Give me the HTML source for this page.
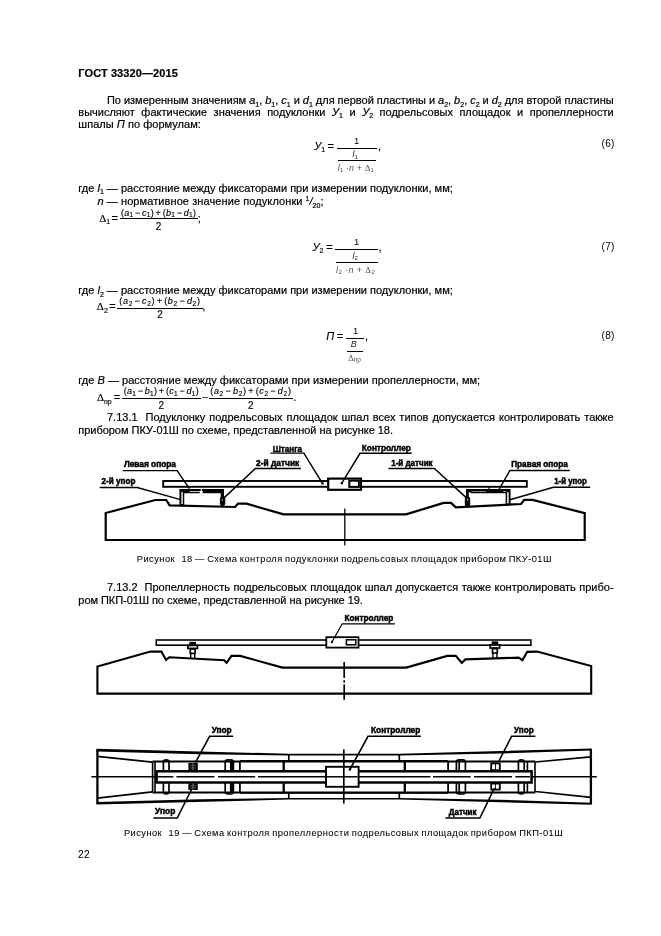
<!DOCTYPE html>
<html lang="ru">
<head>
<meta charset="utf-8">
<title>ГОСТ 33320—2015</title>
<style>
html,body{margin:0;padding:0;background:#fff;}
body{will-change:transform;width:661px;height:936px;position:relative;overflow:hidden;font-family:"Liberation Sans",sans-serif;color:#000;}
.l{-webkit-text-stroke:0.2px #000;position:absolute;white-space:nowrap;font-size:11px;line-height:12px;height:12px;}
i{font-style:italic;}
sub{font-size:7px;vertical-align:baseline;position:relative;top:2.5px;line-height:0;}
sup{font-size:6.5px;vertical-align:baseline;position:relative;top:-4px;line-height:0;}
.hd{font-weight:bold;}
.fl{position:absolute;height:1px;background:#000;}
.t{-webkit-text-stroke:0.15px #000;position:absolute;white-space:nowrap;line-height:12px;height:12px;}
svg{position:absolute;left:0;top:0;}

</style>
</head>
<body>
<div class="l hd" style="left:78.3px;top:66.69px;font-size:11px;letter-spacing:0.103px;">ГОСТ 33320—2015</div>
<div class="l " style="left:106.9px;top:94.19px;font-size:11px;word-spacing:-0.081px;">По измеренным значениям <i>a</i><sub>1</sub>, <i>b</i><sub>1</sub>, <i>c</i><sub>1</sub> и <i>d</i><sub>1</sub> для первой пластины и <i>a</i><sub>2</sub>, <i>b</i><sub>2</sub>, <i>c</i><sub>2</sub> и <i>d</i><sub>2</sub> для второй пластины</div>
<div class="l " style="left:78.3px;top:105.99px;font-size:11px;word-spacing:3.464px;">вычисляют фактические значения подуклонки <i>У</i><sub>1</sub> и <i>У</i><sub>2</sub> подрельсовых площадок и пропеллерности</div>
<div class="l " style="left:78.3px;top:117.89px;font-size:11px;letter-spacing:0.040px;">шпалы <i>П</i> по формулам:</div>
<div class="l " style="left:78.3px;top:181.99px;font-size:11px;letter-spacing:0.006px;">где <i>l</i><sub>1</sub> — расстояние между фиксаторами при измерении подуклонки, мм;</div>
<div class="l " style="left:97.4px;top:195.29px;font-size:11px;letter-spacing:0.090px;"><i>n</i> — нормативное значение подуклонки <sup>1</sup><i>/</i><sub>20</sub>;</div>
<div class="l " style="left:78.3px;top:284.39px;font-size:11px;letter-spacing:0.006px;">где <i>l</i><sub>2</sub> — расстояние между фиксаторами при измерении подуклонки, мм;</div>
<div class="l " style="left:78.3px;top:374.39px;font-size:11px;letter-spacing:0.019px;">где <i>B</i> — расстояние между фиксаторами при измерении пропеллерности, мм;</div>
<div class="l " style="left:107.0px;top:410.69px;font-size:11px;word-spacing:0.893px;">7.13.1&nbsp; Подуклонку подрельсовых площадок шпал всех типов допускается контролировать также</div>
<div class="l " style="left:78.3px;top:423.59px;font-size:11px;letter-spacing:-0.030px;">прибором ПКУ-01Ш по схеме, представленной на рисунке 18.</div>
<div class="l " style="left:136.8px;top:552.58px;font-size:9.3px;letter-spacing:0.453px;"><span style="word-spacing:-0.7px;-webkit-text-stroke:0.05px #000">Рисунок&nbsp; <span style="margin-left:1.8px">18</span> — Схема контроля подуклонки подрельсовых площадок прибором ПКУ-01Ш</span></div>
<div class="l " style="left:107.0px;top:580.99px;font-size:11px;word-spacing:0.423px;">7.13.2&nbsp; Пропеллерность подрельсовых площадок шпал допускается также контролировать прибо-</div>
<div class="l " style="left:78.3px;top:593.59px;font-size:11px;letter-spacing:-0.038px;">ром ПКП-01Ш по схеме, представленной на рисунке 19.</div>
<div class="l " style="left:123.9px;top:826.68px;font-size:9.3px;letter-spacing:0.454px;"><span style="word-spacing:-0.7px;-webkit-text-stroke:0.05px #000">Рисунок&nbsp; <span style="margin-left:1.8px">19</span> — Схема контроля пропеллерности подрельсовых площадок прибором ПКП-01Ш</span></div>
<div class="l " style="left:78.0px;top:849.07px;font-size:10.2px;letter-spacing:0.256px;"><span style="-webkit-text-stroke:0.05px #000">22</span></div>
<div class="l " style="left:601.6px;top:138.23px;font-size:10px;letter-spacing:0.283px;"><span style="-webkit-text-stroke:0">(6)</span></div>
<div class="l " style="left:601.6px;top:240.73px;font-size:10px;letter-spacing:0.283px;"><span style="-webkit-text-stroke:0">(7)</span></div>
<div class="l " style="left:601.6px;top:330.13px;font-size:10px;letter-spacing:0.283px;"><span style="-webkit-text-stroke:0">(8)</span></div>
<div class="t" style="left:314.2px;top:139.79px;font-size:11px;"><i>У</i><sub>1</sub></div>
<div class="t" style="left:327.4px;top:139.79px;font-size:11px;">=</div>
<div class="fl" style="left:337.0px;top:147.7px;width:40.2px;"></div>
<div class="t" style="left:354.1px;top:135.11px;font-size:9.5px;-webkit-text-stroke:0;">1</div>
<div class="t" style="left:378.0px;top:139.79px;font-size:11px;">,</div>
<div class="t" style="left:352.6px;top:148.38px;font-size:9px;color:#1a1a1a;-webkit-text-stroke:0;"><i>l</i><sub style="font-size:6px;top:1.5px">1</sub></div>
<div class="fl" style="left:337.8px;top:159.8px;width:37.8px;"></div>
<div class="t" style="left:337.8px;top:161.68px;font-size:9px;color:#555;-webkit-text-stroke:0;letter-spacing:0.1px;"><i>l</i><sub style="font-size:6px;top:1.5px">1</sub> ·<i>n</i> + <span style="font-family:'Liberation Serif',serif;">Δ</span><sub style="font-size:6px;top:1.5px">1</sub></div>
<div class="t" style="left:312.5px;top:240.79px;font-size:11px;"><i>У</i><sub>2</sub></div>
<div class="t" style="left:326.2px;top:240.79px;font-size:11px;">=</div>
<div class="fl" style="left:334.8px;top:248.9px;width:43.1px;"></div>
<div class="t" style="left:354.1px;top:236.31px;font-size:9.5px;-webkit-text-stroke:0;">1</div>
<div class="t" style="left:378.6px;top:240.79px;font-size:11px;">,</div>
<div class="t" style="left:352.6px;top:249.58px;font-size:9px;color:#1a1a1a;-webkit-text-stroke:0;"><i>l</i><sub style="font-size:6px;top:1.5px">2</sub></div>
<div class="fl" style="left:336.0px;top:261.6px;width:41.9px;"></div>
<div class="t" style="left:336.0px;top:263.58px;font-size:9px;color:#555;-webkit-text-stroke:0;letter-spacing:0.4px;"><i>l</i><sub style="font-size:6px;top:1.5px">2</sub> ·<i>n</i> + <span style="font-family:'Liberation Serif',serif;">Δ</span><sub style="font-size:6px;top:1.5px">2</sub></div>
<div class="t" style="left:326.3px;top:329.99px;font-size:11px;"><i>П</i></div>
<div class="t" style="left:336.8px;top:329.99px;font-size:11px;">=</div>
<div class="fl" style="left:346.1px;top:337.7px;width:18.2px;"></div>
<div class="t" style="left:352.9px;top:325.21px;font-size:9.5px;-webkit-text-stroke:0;">1</div>
<div class="t" style="left:365.0px;top:329.99px;font-size:11px;">,</div>
<div class="t" style="left:350.8px;top:337.68px;font-size:9px;color:#1a1a1a;-webkit-text-stroke:0;"><i>B</i></div>
<div class="fl" style="left:346.9px;top:350.8px;width:15.9px;"></div>
<div class="t" style="left:348.0px;top:351.68px;font-size:9px;color:#555;-webkit-text-stroke:0;"><span style="font-family:'Liberation Serif',serif;">Δ</span><sub style="font-size:6.5px;top:1.8px">пр</sub></div>
<div class="t" style="left:99.2px;top:211.79px;font-size:11px;"><span style="font-family:'Liberation Serif',serif;">Δ</span><sub>1</sub></div>
<div class="t" style="left:111.5px;top:211.79px;font-size:11px;">=</div>
<div class="fl" style="left:119.6px;top:218.4px;width:78.0px;"></div>
<div class="t" style="left:119.6px;width:78.0px;text-align:center;top:206.88px;font-size:9px;letter-spacing:0.3px;">(<i>a</i><sub style="font-size:6.5px;top:1.5px">1</sub><span style="margin:0 1.5px">−</span><i>c</i><sub style="font-size:6.5px;top:1.5px">1</sub>)<span style="margin:0 1.5px">+</span>(<i>b</i><sub style="font-size:6.5px;top:1.5px">1</sub><span style="margin:0 1.5px">−</span><i>d</i><sub style="font-size:6.5px;top:1.5px">1</sub>)</div>
<div class="t" style="left:119.6px;width:78.0px;text-align:center;top:221.14px;font-size:10px;">2</div>
<div class="t" style="left:197.8px;top:211.79px;font-size:11px;">;</div>
<div class="t" style="left:96.8px;top:300.19px;font-size:11px;"><span style="font-family:'Liberation Serif',serif;">Δ</span><sub>2</sub></div>
<div class="t" style="left:109.3px;top:300.19px;font-size:11px;">=</div>
<div class="fl" style="left:117.2px;top:307.8px;width:85.5px;"></div>
<div class="t" style="left:117.2px;width:85.5px;text-align:center;top:295.48px;font-size:9px;letter-spacing:0.7px;">(<i>a</i><sub style="font-size:6.5px;top:1.5px">2</sub><span style="margin:0 1.5px">−</span><i>c</i><sub style="font-size:6.5px;top:1.5px">2</sub>)<span style="margin:0 1.5px">+</span>(<i>b</i><sub style="font-size:6.5px;top:1.5px">2</sub><span style="margin:0 1.5px">−</span><i>d</i><sub style="font-size:6.5px;top:1.5px">2</sub>)</div>
<div class="t" style="left:117.2px;width:85.5px;text-align:center;top:309.04px;font-size:10px;">2</div>
<div class="t" style="left:202.2px;top:300.19px;font-size:11px;">,</div>
<div class="t" style="left:97.0px;top:391.39px;font-size:11px;"><span style="font-family:'Liberation Serif',serif;">Δ</span><sub style="font-size:7px">пр</sub></div>
<div class="t" style="left:113.8px;top:391.39px;font-size:11px;">=</div>
<div class="fl" style="left:122.0px;top:398.2px;width:78.7px;"></div>
<div class="t" style="left:122.0px;width:78.7px;text-align:center;top:385.48px;font-size:9px;letter-spacing:0.3px;">(<i>a</i><sub style="font-size:6.5px;top:1.5px">1</sub><span style="margin:0 1.5px">−</span><i>b</i><sub style="font-size:6.5px;top:1.5px">1</sub>)<span style="margin:0 1.5px">+</span>(<i>c</i><sub style="font-size:6.5px;top:1.5px">1</sub><span style="margin:0 1.5px">−</span><i>d</i><sub style="font-size:6.5px;top:1.5px">1</sub>)</div>
<div class="t" style="left:122.0px;width:78.7px;text-align:center;top:399.74px;font-size:10px;">2</div>
<div class="t" style="left:201.8px;top:391.39px;font-size:11px;">−</div>
<div class="fl" style="left:208.9px;top:398.2px;width:84.0px;"></div>
<div class="t" style="left:208.9px;width:84.0px;text-align:center;top:385.48px;font-size:9px;letter-spacing:0.7px;">(<i>a</i><sub style="font-size:6.5px;top:1.5px">2</sub><span style="margin:0 1.5px">−</span><i>b</i><sub style="font-size:6.5px;top:1.5px">2</sub>)<span style="margin:0 1.5px">+</span>(<i>c</i><sub style="font-size:6.5px;top:1.5px">2</sub><span style="margin:0 1.5px">−</span><i>d</i><sub style="font-size:6.5px;top:1.5px">2</sub>)</div>
<div class="t" style="left:208.9px;width:84.0px;text-align:center;top:399.74px;font-size:10px;">2</div>
<div class="t" style="left:293.2px;top:391.39px;font-size:11px;">.</div>
<svg width="661" height="936" viewBox="0 0 661 936" fill="none" stroke="#000" stroke-linejoin="miter" stroke-linecap="butt">
<!-- ===== Figure 18 ===== -->
<g id="f18">
<!-- sleeper outline -->
<path stroke-width="2.2" d="M105.7,513 L105.7,540 L584.7,540 L584.7,513.1 L532.5,499.9 L524.3,499.9 L521,504 L455.8,507.4 L451,502.9 L443.6,502.9 L406,514.4 L283.6,514.4 L246.5,503.7 L238,503.7 L235,507 L169.6,505.3 L166.2,500 L155.4,500 Z"/>
<!-- centre line -->
<path stroke-width="1.3" d="M344.8,508.5 V545.5"/>
<!-- bar -->
<rect x="163.2" y="481" width="363.6" height="5.8" stroke-width="1.9"/>
<!-- controller -->
<rect x="328.2" y="478.6" width="32.8" height="11.2" stroke-width="2.2" fill="#fff"/>
<rect x="349.3" y="480.7" width="9.6" height="6.2" stroke-width="2"/>
<!-- left support -->
<path stroke-width="1.9" d="M180.4,506 V490 H223 V506"/>
<path stroke-width="1.5" d="M183.5,505.3 V492.5 H199.7 M202.6,492.5 H220.8"/>
<path stroke-width="2.9" d="M203,491.3 H222.2 V506.2"/>
<path stroke-width="2.6" d="M179.6,490.8 H189.6"/>
<path stroke-width="1.8" d="M180.3,505 H184.2"/>
<path stroke="#fff" stroke-width="1.1" d="M201.2,487.9 V493.2"/>
<rect x="220.4" y="497" width="4.4" height="8.4" rx="1.8" fill="#000" stroke-width="1"/>
<circle cx="222.3" cy="499.9" r="0.7" fill="#fff" stroke="none"/>
<!-- right support -->
<path stroke-width="1.9" d="M466.9,506.8 V490 H509.6 V505"/>
<path stroke-width="1.5" d="M470.6,492.6 H506.4 V505"/>
<path stroke-width="2.8" d="M467.4,491.2 V506.6"/>
<path stroke-width="2.7" d="M466.9,490.9 H509.6"/>
<path stroke="#fff" stroke-width="0.5" d="M471.5,491.5 H486 M503,491.5 H506.5"/>
<path stroke-width="1.8" d="M505.5,504.5 H510"/>
<path stroke-width="1.2" d="M489,487 V490"/>
<rect x="465.3" y="497" width="4.4" height="9.6" rx="1.8" fill="#000" stroke-width="1"/>
<circle cx="467.6" cy="499.8" r="0.7" fill="#fff" stroke="none"/>
<!-- leaders -->
<g stroke-width="1.45">
<path d="M122.7,470.6 H177.2 L189.3,488.7"/>
<path d="M99.7,487.5 H137.2 L180.6,499.6"/>
<path d="M300.8,468.5 H255.4 L223.2,498.6"/>
<path d="M270.5,453.1 H303.9 L322.6,483.6"/>
<path d="M411.7,453.3 H360 L341.8,483.2"/>
<path d="M388.5,468.5 H434.4 L467.3,498.6"/>
<path d="M569.8,470.4 H509.9 L499,489.5"/>
<path d="M590.2,487.3 H553.4 L509.9,499.8"/>
</g>
<circle cx="322.6" cy="483.6" r="1.2" fill="#000" stroke="none"/>
<circle cx="341.8" cy="483.2" r="1.2" fill="#000" stroke="none"/>
<!-- labels -->
<g fill="#000" stroke="#000" stroke-width="0.5" font-family="'Liberation Sans',sans-serif" font-weight="bold" font-size="9px">
<text x="123.9" y="467.4" textLength="52.1" lengthAdjust="spacingAndGlyphs">Левая опора</text>
<text x="101.6" y="484" textLength="33.9" lengthAdjust="spacingAndGlyphs">2-й упор</text>
<text x="256" y="466" textLength="43.3" lengthAdjust="spacingAndGlyphs">2-й датчик</text>
<text x="272.7" y="451.8" textLength="29.4" lengthAdjust="spacingAndGlyphs">Штанга</text>
<text x="361.8" y="451.3" textLength="49" lengthAdjust="spacingAndGlyphs">Контроллер</text>
<text x="391.2" y="466.3" textLength="41.4" lengthAdjust="spacingAndGlyphs">1-й датчик</text>
<text x="511.2" y="466.9" textLength="56.7" lengthAdjust="spacingAndGlyphs">Правая опора</text>
<text x="554.3" y="484" textLength="32.4" lengthAdjust="spacingAndGlyphs">1-й упор</text>
</g>
</g>
<!-- ===== Figure 19, side view ===== -->
<g id="f19a">
<path stroke-width="2.1" d="M97.4,666.5 L97.4,693.6 L591.2,693.6 L591.2,666 L537,651.6 L527.2,651.9 L522.4,660.2 L518.7,657.6 L465.4,659.4 L461.8,663 L455.8,655.9 L447.3,655.9 L406.2,667.6 L282.4,667.6 L240.2,655.9 L231.5,655.9 L226.6,662.8 L224.2,660.3 L169.3,657.2 L166,659.8 L161.4,651.6 L150.5,651.6 Z"/>
<path stroke-width="1.7" d="M344.2,662 V678 M344.2,680.2 V682.4 M344.2,684.6 V699.8"/>
<rect x="156.3" y="640" width="374.6" height="5.2" stroke-width="1.6"/>
<rect x="326.3" y="637.2" width="32.2" height="10.4" stroke-width="1.8" fill="#fff"/>
<rect x="346.4" y="639.8" width="9.4" height="5" stroke-width="1.5"/>
<!-- pins -->
<g>
<rect x="189.4" y="641.8" width="6.6" height="3" fill="#000" stroke="none"/>
<rect x="187.9" y="645.4" width="9.6" height="3" stroke-width="1.7" fill="#fff"/>
<rect x="190.3" y="649" width="4.8" height="4.4" stroke-width="1.7" fill="#fff"/>
<path stroke-width="1.4" d="M190.7,653.6 V658.4 M194.7,653.6 V658.6"/>
</g>
<g transform="translate(302.2,-0.4)">
<rect x="189.4" y="641.8" width="6.6" height="3" fill="#000" stroke="none"/>
<rect x="187.9" y="645.4" width="9.6" height="3" stroke-width="1.7" fill="#fff"/>
<rect x="190.3" y="649" width="4.8" height="4.4" stroke-width="1.7" fill="#fff"/>
<path stroke-width="1.4" d="M190.7,653.6 V658.4 M194.7,653.6 V658.6"/>
</g>
<path stroke-width="1.2" d="M395,623.8 H342.2 L332,642"/>
<circle cx="332" cy="642" r="1.2" fill="#000" stroke="none"/>
<g fill="#000" stroke="#000" stroke-width="0.5" font-family="'Liberation Sans',sans-serif" font-weight="bold" font-size="9px">
<text x="344.6" y="620.9" textLength="48.7" lengthAdjust="spacingAndGlyphs">Контроллер</text>
</g>
</g>
<!-- ===== Figure 19, plan view ===== -->
<g id="f19b">
<!-- outer outline -->
<path stroke-width="2.3" d="M97.4,749.4 V803.8 M590.9,749.2 V804"/>
<path fill="#000" stroke="none" d="M96.5,748.7 L289,753.8 L399.3,753.8 L591.8,748.5 L591.8,750.6 L500,753.6 L399.3,755.5 L289,755.5 L200,754.2 L96.5,751.4 Z"/>
<path fill="#000" stroke="none" d="M96.5,804.6 L289,799.6 L399.3,799.6 L591.8,804.8 L591.8,802.7 L500,799.8 L399.3,797.9 L289,797.9 L200,799.2 L96.5,801.9 Z"/>
<!-- inner end tapers -->
<path stroke-width="1.7" d="M97.4,756.3 L152.4,762.2 M97.4,798.1 L152.4,791.8 M535.4,762 L590.9,756.8 M535.4,791.5 L590.9,797.3"/>
<!-- long horizontal lines -->
<path stroke-width="2" d="M152.4,761.6 H535.4 M152.4,792.4 H535.4"/>
<path stroke-width="1.7" d="M240,760.9 H448 M240,792.9 H448"/>
<!-- verticals -->
<path stroke-width="1.6" d="M152.6,762 V792 M155,762 V792 M535,762 V792 M527.4,762 V792"/>
<path stroke-width="1.8" d="M239.9,761.6 V771 M239.9,783 V792.4 M448.1,761.6 V771 M448.1,783 V792.4"/>
<path stroke-width="1.7" d="M288.8,754.7 V760.9 M399.3,754.7 V760.9 M288.8,792.9 V798.8 M399.3,792.9 V798.8"/>
<path stroke-width="2.3" d="M283.7,761 V770.6 M283.7,783.2 V792.6 M404.8,761 V770.6 M404.8,783.2 V792.6"/>
<!-- axis -->
<path stroke-width="1.4" d="M91.4,776.8 H156 M531.8,776.8 H596.8"/>
<!-- bar in plan -->
<rect x="156.6" y="771.3" width="375" height="11.2" stroke-width="2.5" fill="#fff"/>
<path stroke-width="1.6" d="M158,776.8 H173.4 M176.4,776.8 H214.4 M218,776.8 H255.2 M258,776.8 H325 M359,776.8 H430.4 M433,776.8 H470.6 M474,776.8 H512 M515.4,776.8 H530"/>
<!-- clamps -->
<g id="clamp" stroke-width="1.7">
<path d="M163.4,770.8 V762 Q163.4,759.8 166.2,759.8 Q169,759.8 169,762 V770.8 M163.4,783 V791.8 Q163.4,794 166.2,794 Q169,794 169,791.8 V783"/>
</g>
<g stroke-width="1.7">
<path d="M225.2,770.8 V762 Q225.2,759.8 228,759.8 H230.6 Q233.4,759.8 233.4,762 V770.8 M225.2,783 V791.8 Q225.2,794 228,794 H230.6 Q233.4,794 233.4,791.8 V783"/>
<path stroke-width="3.4" d="M231.6,761.4 V770.8 M231.6,783 V792.6"/>
<path d="M456.4,770.8 V762 Q456.4,759.8 459.2,759.8 H462.6 Q465.4,759.8 465.4,762 V770.8 M456.4,783 V791.8 Q456.4,794 459.2,794 H462.6 Q465.4,794 465.4,791.8 V783"/>
<path d="M459.2,760.4 V770.8 M459.2,783 V793.4"/>
<path d="M518.4,770.8 V762 Q518.4,759.8 521.3,759.8 Q524.2,759.8 524.2,762 V770.8 M518.4,783 V791.8 Q518.4,794 521.3,794 Q524.2,794 524.2,791.8 V783"/>
</g>
<!-- stops (filled) and sensors (open) -->
<rect x="188.4" y="763" width="9.4" height="7.6" fill="#000" stroke="none"/>
<rect x="188.4" y="783.2" width="9.4" height="6.8" fill="#000" stroke="none"/>
<path stroke="#fff" stroke-width="0.6" d="M190.6,765.4 H191.6 M194.4,765.4 H195.4 M190.6,768 H191.6 M194.4,768 H195.4 M190.6,785.8 H191.6 M194.4,785.8 H195.4 M190.6,788 H191.6 M194.4,788 H195.4 M193,763.4 V770 M193,783.6 V789.6"/>
<rect x="491.2" y="763.4" width="8.6" height="6.8" stroke-width="1.8" fill="#fff"/>
<rect x="491.2" y="783.6" width="8.6" height="6" stroke-width="1.8" fill="#fff"/>
<path stroke-width="0.9" d="M495.5,764 V770 M495.5,784 V789.4"/>
<!-- controller -->
<rect x="326" y="766.8" width="32.6" height="20" stroke-width="1.9" fill="#fff"/>
<path stroke-width="1.5" d="M327,776.8 H357.6"/>
<path stroke-width="1.7" d="M343.8,749.4 V803.6"/>
<!-- leaders -->
<g stroke-width="1.6">
<path d="M233.2,736.3 H209.6 L195.4,762.7"/>
<path d="M153.3,818 H177.2 L191.8,789"/>
<path d="M420.9,736.3 H368 L349.9,769.5"/>
<path d="M535.4,736.3 H511.6 L499,760.9"/>
<path d="M445.4,818 H479.9 L494.4,788.1"/>
</g>
<circle cx="349.9" cy="769.5" r="1.2" fill="#000" stroke="none"/>
<g fill="#000" stroke="#000" stroke-width="0.5" font-family="'Liberation Sans',sans-serif" font-weight="bold" font-size="9px">
<text x="211.7" y="733.1" textLength="20" lengthAdjust="spacingAndGlyphs">Упор</text>
<text x="155.1" y="814.4" textLength="20.3" lengthAdjust="spacingAndGlyphs">Упор</text>
<text x="371" y="732.5" textLength="49.3" lengthAdjust="spacingAndGlyphs">Контроллер</text>
<text x="514" y="733.1" textLength="19.6" lengthAdjust="spacingAndGlyphs">Упор</text>
<text x="448.7" y="814.8" textLength="27.9" lengthAdjust="spacingAndGlyphs">Датчик</text>
</g>
</g>

</svg>


</body>
</html>
